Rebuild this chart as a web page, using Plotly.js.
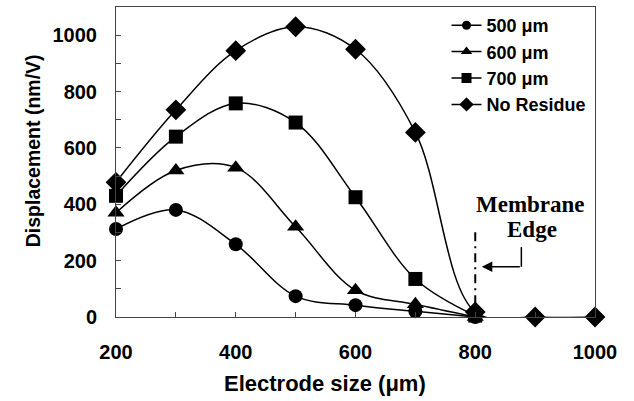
<!DOCTYPE html>
<html><head><meta charset="utf-8">
<script src="https://cdn.plot.ly/plotly-3.0.1.min.js"></script>
<style>html,body{margin:0;padding:0;background:#fff}#chart{width:634px;height:401px}</style>
</head><body><div id="chart"></div>
<script>
const sizes = [200, 300, 400, 500, 600, 700, 800];
const sizesNoResidue = [200, 300, 400, 500, 600, 700, 800, 900, 1000];
const d500 = [312, 380, 258, 74, 42, 20, 0];
const d600 = [370, 520, 530, 320, 95, 45, 0];
const d700 = [430, 640, 758, 690, 425, 135, 5];
const dNoResidue = [478, 735, 945, 1030, 950, 655, 18, 0, 0];
const seriesNames = ['500 \u03bcm', '600 \u03bcm', '700 \u03bcm', 'No Residue'];
const symbols = ['circle', 'triangle-up', 'square', 'diamond'];
const edgeX = 800;

function tr(x, y, name, symbol, size, legendOnly) {
  return {x: legendOnly ? [null] : x, y: legendOnly ? [null] : y, name: name, type: 'scatter', mode: 'lines+markers',
    showlegend: !!legendOnly,
    line: {shape: 'spline', smoothing: 1, color: '#000', width: 1.5},
    marker: {symbol: symbol, size: size, color: '#000'}, cliponaxis: false};
}
const data = [
  tr(sizes, d500, seriesNames[0], symbols[0], 14),
  tr(sizes, d600, seriesNames[1], symbols[1], 15),
  tr(sizes, d700, seriesNames[2], symbols[2], 14),
  tr(sizesNoResidue, dNoResidue, seriesNames[3], symbols[3], 16),
  tr(sizes, d500, seriesNames[0], symbols[0], 9, true),
  tr(sizes, d600, seriesNames[1], symbols[1], 10, true),
  tr(sizes, d700, seriesNames[2], symbols[2], 10, true),
  tr(sizesNoResidue, dNoResidue, seriesNames[3], symbols[3], 11, true)
];
const sans = 'Liberation Sans, Arial, sans-serif';
const serif = 'Liberation Serif, Times New Roman, serif';
const axFont = {family: sans, size: 20, color: '#000', weight: 'bold'};
const layout = {
  width: 634, height: 401,
  margin: {l: 116, r: 39, t: 7, b: 84},
  paper_bgcolor: '#fff', plot_bgcolor: '#fff',
  showlegend: true,
  legend: {x: 0.69, y: 1.0, xanchor: 'left', yanchor: 'top', bgcolor: 'rgba(0,0,0,0)',
    font: {family: sans, size: 18, color: '#000', weight: 'bold'},
    tracegroupgap: 0, itemwidth: 30},
  xaxis: {range: [200, 1000], tickvals: [200, 400, 600, 800, 1000], ticks: 'inside', ticklen: 5,
    tickcolor: '#444', showline: true, linecolor: '#444', linewidth: 1, mirror: true, showgrid: false, zeroline: false,
    minor: {dtick: 100, ticks: 'inside', ticklen: 5, tickcolor: '#444', showgrid: false},
    tickfont: axFont, ticklabelstandoff: 17},
  yaxis: {range: [0, 1100], tickvals: [0, 200, 400, 600, 800, 1000], ticks: 'inside', ticklen: 5,
    tickcolor: '#444', showline: true, linecolor: '#444', linewidth: 1, mirror: true, showgrid: false, zeroline: false,
    minor: {dtick: 100, ticks: 'inside', ticklen: 5, tickcolor: '#444', showgrid: false},
    tickfont: axFont, ticklabelstandoff: 14},
  shapes: [
    {type: 'line', xref: 'x', yref: 'y', x0: edgeX, x1: edgeX, y0: 45, y1: 310, line: {color: '#000', width: 2, dash: '9px,5px,2px,5px'}},
    {type: 'line', xref: 'x', yref: 'y', x0: 877, x1: 877, y0: 248, y1: 178, line: {color: '#000', width: 1.5}}
  ],
  annotations: [
    {xref: 'x', yref: 'y', x: 811, y: 178, ax: 877, ay: 178, axref: 'x', ayref: 'y', showarrow: true,
     arrowhead: 2, arrowsize: 1.4, arrowwidth: 1.5, arrowcolor: '#000', text: ''},
    {xref: 'x', yref: 'y', x: 893, y: 400, text: 'Membrane', showarrow: false, yanchor: 'middle',
     font: {family: serif, size: 23, color: '#000', weight: 'bold'}},
    {xref: 'x', yref: 'y', x: 895, y: 311, text: 'Edge', showarrow: false, yanchor: 'middle',
     font: {family: serif, size: 23, color: '#000', weight: 'bold'}},
    {xref: 'paper', yref: 'paper', x: 0.436, y: -0.213, text: 'Electrode size (\u03bcm)', showarrow: false,
     xanchor: 'center', yanchor: 'middle', font: {family: sans, size: 22, color: '#000', weight: 'bold'}},
    {xref: 'paper', yref: 'paper', x: -0.173, y: 0.535, text: 'Displacement (nm/V)', showarrow: false, textangle: -90,
     xanchor: 'center', yanchor: 'middle', font: {family: sans, size: 19.5, color: '#000', weight: 'bold'}}
  ]
};
Plotly.newPlot('chart', data, layout, {displayModeBar: false, staticPlot: true});
</script></body></html>
